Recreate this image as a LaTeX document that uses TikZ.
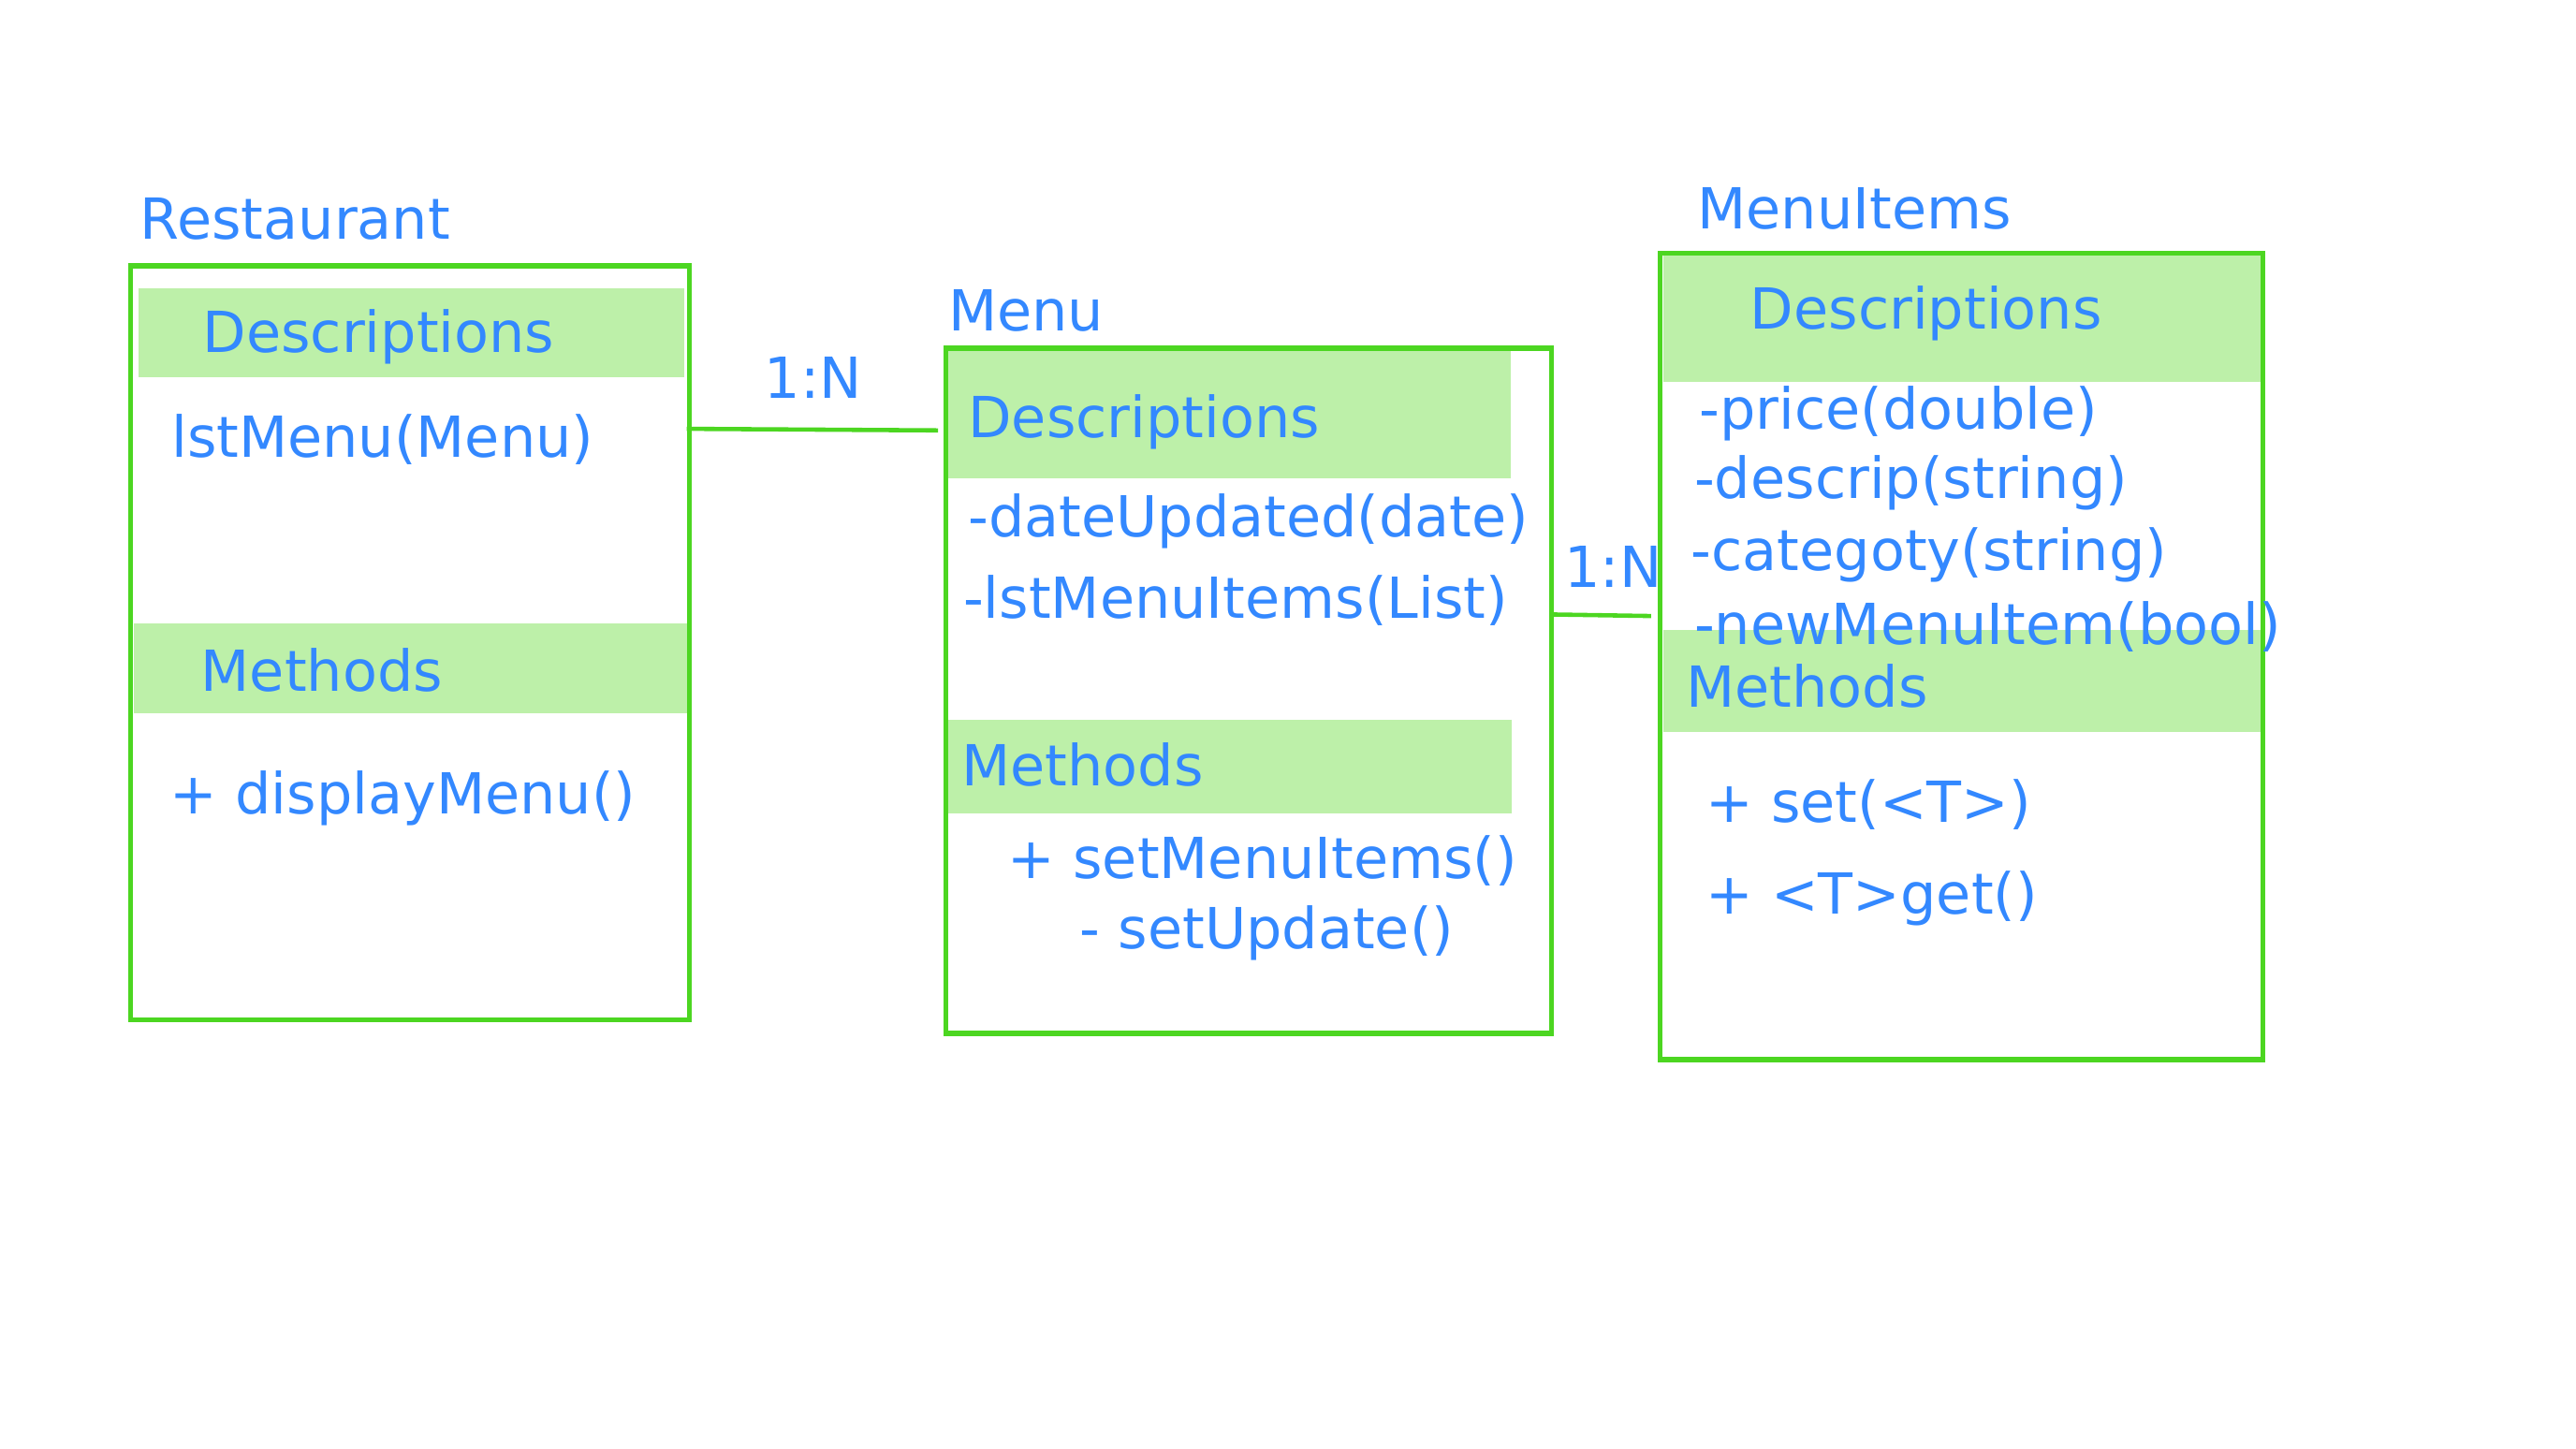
\documentclass[tikz,border=0pt]{standalone}
\usepackage{fontspec}
\setmainfont{DejaVu Sans}
\definecolor{txt}{HTML}{3388FF}
\definecolor{frame}{HTML}{4CD621}
\definecolor{band}{HTML}{BDF0A9}
\tikzset{
  classbox/.style={draw=frame,line width=1.5pt,inner sep=0pt,anchor=north west},
  bandbox/.style={fill=band,inner sep=0pt,anchor=north west},
  lbl/.style={text=txt,anchor=west,inner sep=0pt,text height=0.44cm,text depth=0pt,
    font=\fontsize{17.2}{20}\selectfont},
  link/.style={draw=frame,line width=1.3pt},
}
\begin{document}
\begin{tikzpicture}
  \useasboundingbox (0,0) rectangle (27.52,-15.48);

  % bands
  \node[bandbox,minimum width=5.827cm,minimum height=0.948cm] (restdesc) at (1.474,-3.071) {};
  \node[bandbox,minimum width=5.914cm,minimum height=0.965cm] (restmeth) at (1.422,-6.651) {};
  \node[bandbox,minimum width=6.002cm,minimum height=1.369cm] (menudesc) at (10.126,-3.738) {};
  \node[bandbox,minimum width=6.020cm,minimum height=1.000cm] (menumeth) at (10.126,-7.687) {};
  \node[bandbox,minimum width=6.388cm,minimum height=1.351cm] (itemdesc) at (17.761,-2.720) {};
  \node[bandbox,minimum width=6.388cm,minimum height=1.088cm] (itemmeth) at (17.761,-6.722) {};

  % boxes
  \node[classbox,minimum width=5.967cm,minimum height=8.055cm] (restbox) at (1.370,-2.815) {};
  \node[classbox,minimum width=6.476cm,minimum height=7.318cm] (menubox) at (10.075,-3.695) {};
  \node[classbox,minimum width=6.441cm,minimum height=8.617cm] (itembox) at (17.710,-2.677) {};

  % links
  \coordinate (l1a) at (7.337,-4.581);
  \coordinate (l1b) at (10.021,-4.598);
  \coordinate (l2a) at (16.551,-6.564);
  \coordinate (l2b) at (17.638,-6.581);
  \draw[link] (l1a) -- (l1b);
  \draw[link] (l2a) -- (l2b);
  \node[lbl,anchor=center] (l1lbl) at (8.687,-4.037) {1:N};
  \node[lbl] (l2lbl) at (16.708,-6.055) {1:N};

  % Restaurant
  \path
  (1.492,-2.334) node[lbl] (resttitle) {Restaurant}
  (2.159,-3.545) node[lbl] (restdtxt) {Descriptions}
  (1.825,-4.668) node[lbl] (restlst) {lstMenu(Menu)}
  (2.141,-7.160) node[lbl] (restmtxt) {Methods}
  (1.808,-8.477) node[lbl] (restdisp) {+ displayMenu()}
  ;

  % Menu
  \path
  (10.126,-3.317) node[lbl] (menutitle) {Menu}
  (10.337,-4.458) node[lbl] (menudtxt) {Descriptions}
  (10.337,-5.511) node[lbl] (menudate) {-dateUpdated(date)}
  (10.284,-6.388) node[lbl] (menulst) {-lstMenuItems(List)}
  (10.267,-8.178) node[lbl] (menumtxt) {Methods}
  (10.758,-9.161) node[lbl] (menuset) {+ setMenuItems()}
  (11.530,-9.916) node[lbl] (menuupd) {- setUpdate()}
  ;

  % MenuItems
  \path
  (18.129,-2.229) node[lbl] (itemtitle) {MenuItems}
  (18.691,-3.299) node[lbl] (itemdtxt) {Descriptions}
  (18.147,-4.370) node[lbl] (itemprice) {-price(double)}
  (18.094,-5.107) node[lbl] (itemdescr) {-descrip(string)}
  (18.059,-5.879) node[lbl] (itemcat) {-categoty(string)}
  (18.094,-6.669) node[lbl] (itemnew) {-newMenuItem(bool)}
  (18.006,-7.336) node[lbl] (itemmtxt) {Methods}
  (18.217,-8.564) node[lbl] (itemset) {+ set(<T>)}
  (18.217,-9.547) node[lbl] (itemget) {+ <T>get()}
  ;
\end{tikzpicture}
\end{document}
